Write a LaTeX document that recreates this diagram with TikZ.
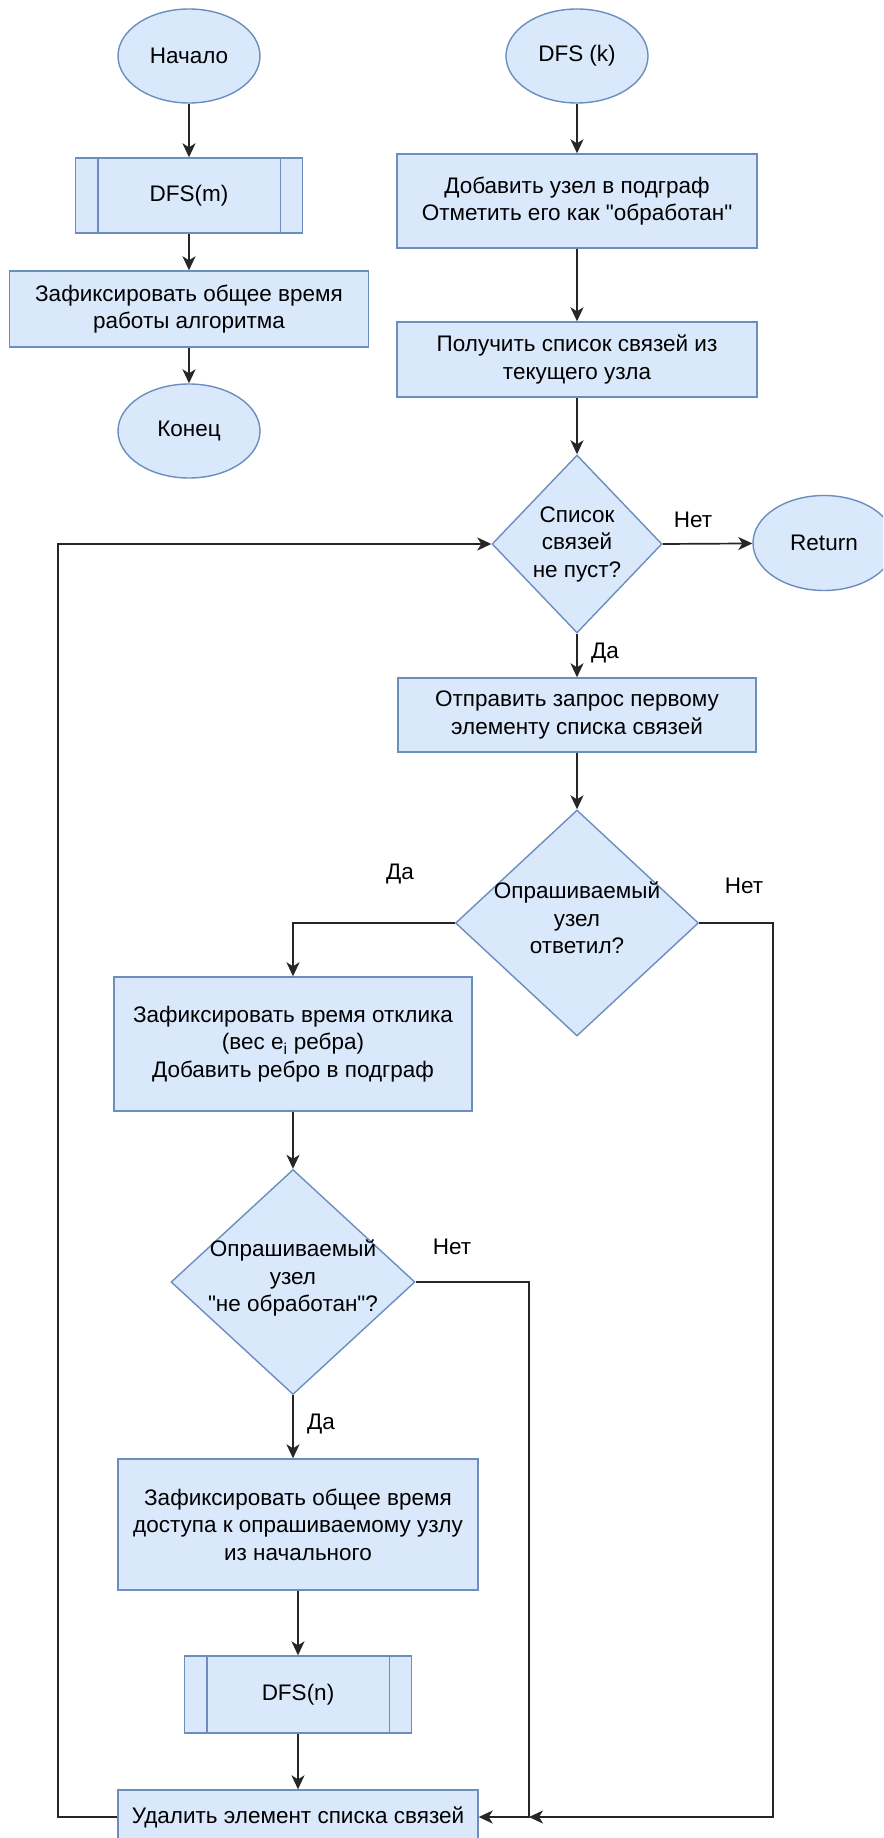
\documentclass[tikz,border=0pt]{standalone}
\usepackage{fontspec}
\setmainfont{Liberation Sans}[Ligatures=TeXOff]
\usetikzlibrary{shapes.geometric,arrows.meta}

\definecolor{boxfill}{HTML}{DAE8FC}
\definecolor{boxline}{HTML}{6C8EBF}

\begin{document}
\begin{tikzpicture}[
  x=1pt, y=-1pt,
  txt/.style={font=\fontsize{22.5}{27.5}\selectfont, align=center, inner sep=0pt},
  base/.style={txt, draw=boxline, fill=boxfill, line width=1.4pt},
  terminal/.style={base, ellipse, minimum width=142pt, minimum height=94pt},
  process/.style={base, rectangle, minimum width=360pt, minimum height=75pt},
  decision/.style={base, diamond},
  flow/.style={line width=1.7pt, draw=black!85, -{Stealth[length=14pt,width=13pt,inset=4pt]}},
  lbl/.style={txt}
]
\useasboundingbox (0,0) rectangle (883,1838);
\clip (0,0) rectangle (883,1838);
\fill[white] (0,0) rectangle (883,1838);

% ---- main procedure ----
\node[terminal] (begin) at (189,56) {Начало};
\node[process, minimum width=227pt] (dfsm) at (189,195.5) {DFS(m)};
\draw[boxline, line width=1.4pt] ([xshift=23pt]dfsm.north west) -- ([xshift=23pt]dfsm.south west)
  ([xshift=-23pt]dfsm.north east) -- ([xshift=-23pt]dfsm.south east);
\node[process, minimum width=359pt, minimum height=76pt] (fixall) at (189,309)
  {Зафиксировать общее время\\работы алгоритма};
\node[terminal] (endn) at (189,431) {Конец};

\draw[flow] (begin) -- (dfsm);
\draw[flow] (dfsm) -- (fixall);
\draw[flow] (fixall) -- (endn);

% ---- recursive DFS(k) ----
\node[terminal] (dfsk) at (577,56) {DFS (k)};
\node[process, minimum height=94pt] (addnode) at (577,201)
  {Добавить узел в подграф\\Отметить его как "обработан"};
\node[process] (getlist) at (577,359.5) {Получить список связей из\\текущего узла};
\node[decision, minimum width=170pt, minimum height=178pt] (dlist) at (577,544) {};
\node[txt] (dlisttxt) at (dlist.center) {Список\\связей\\не пуст?};
\node[terminal, minimum height=95pt] (ret) at (824,543) {Return};
\node[process, minimum width=358pt, minimum height=74pt] (send) at (577,715)
  {Отправить запрос первому\\элементу списка связей};
\node[decision, minimum width=243pt, minimum height=226pt] (dresp) at (577,923) {};
\node[txt] (dresptxt) at (577,918) {Опрашиваемый\\узел\\ответил?};
\node[process, minimum width=358pt, minimum height=134pt] (fixresp) at (293,1044)
  {Зафиксировать время отклика\\(вес e\textsubscript{i} ребра)\\Добавить ребро в подграф};
\node[decision, minimum width=244pt, minimum height=225pt] (dnew) at (293,1282) {};
\node[txt] (dnewtxt) at (293,1278) {Опрашиваемый\\узел\\"не обработан"?};
\node[process, minimum height=131pt] (fixacc) at (298,1524.5)
  {Зафиксировать общее время\\доступа к опрашиваемому узлу\\из начального};
\node[process, minimum width=227pt, minimum height=77pt] (dfsn) at (298,1694.5) {DFS(n)};
\draw[boxline, line width=1.4pt] ([xshift=23pt]dfsn.north west) -- ([xshift=23pt]dfsn.south west)
  ([xshift=-23pt]dfsn.north east) -- ([xshift=-23pt]dfsn.south east);
\node[process, minimum height=54pt] (remove) at (298,1817) {Удалить элемент списка связей};

% junction points of the return lines
\coordinate (j1) at (773,1817);
\coordinate (j2) at (529,1817);
\coordinate (j3) at (58,1817);

% ---- connectors ----
\draw[flow] (dfsk) -- (addnode);
\draw[flow] (addnode) -- (getlist);
\draw[flow] (getlist) -- (dlist);
\draw[flow] (dlist.east) -- (ret);
\draw[flow] (dlist.south) -- (send.north);
\draw[flow] (send) -- (dresp);
\draw[flow] (dresp.west) -| (fixresp.north);
\draw[flow] (fixresp) -- (dnew);
\draw[flow] (dnew.south) -- (dnew.south |- fixacc.north);
\draw[flow] (fixacc) -- (dfsn);
\draw[flow] (dfsn) -- (remove);
\draw[flow] (dnew.east) -| (j2) -- (remove.east);
\draw[flow] (dresp.east) -| (j1) -- (j2);
\draw[flow] (remove.west) -- (j3) |- (dlist.west);

% ---- branch labels ----
\node[lbl] (no1) at (693,520) {Нет};
\node[lbl] (yes1) at (605,653) {Да};
\node[lbl] (yes2) at (400,874) {Да};
\node[lbl] (no2) at (744,886) {Нет};
\node[lbl] (no3) at (452,1247) {Нет};
\node[lbl] (yes3) at (321,1424) {Да};
\end{tikzpicture}
\end{document}
